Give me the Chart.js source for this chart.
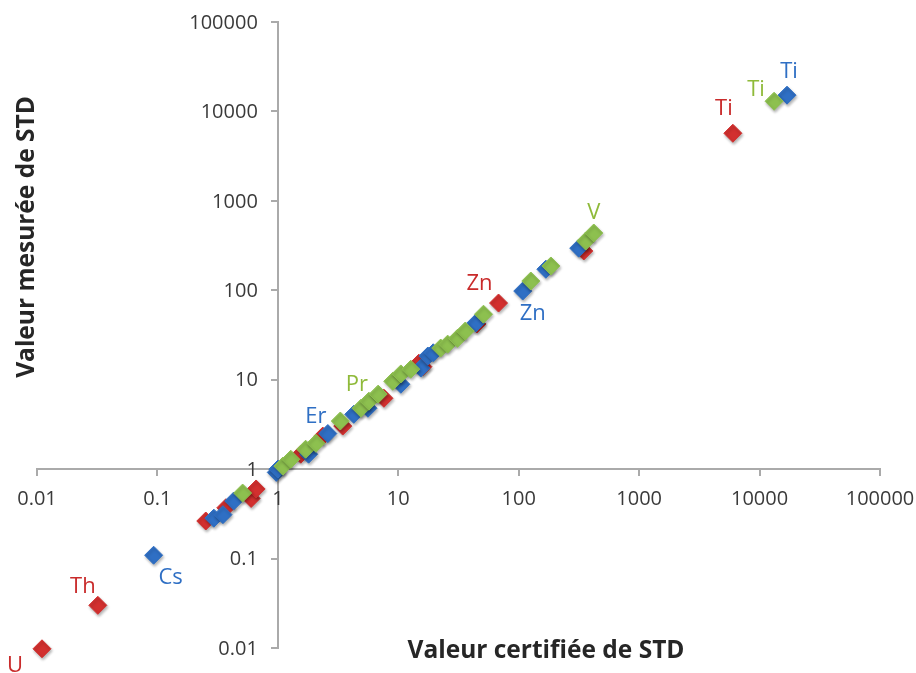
<!DOCTYPE html>
<html>
<head>
<meta charset="utf-8">
<script src="https://cdn.jsdelivr.net/npm/chart.js@4/dist/chart.umd.min.js"></script>
<style>
  html, body { margin: 0; padding: 0; background: #fff; }
  #wrap { width: 916px; height: 673px; }
</style>
</head>
<body>
<div id="wrap"><canvas id="chart_1"></canvas></div>
<script>
// log axis ticks
const tickValues = [0.01, 0.1, 1, 10, 100, 1000, 10000, 100000];
const tickLabels = ['0.01', '0.1', '1', '10', '100', '1000', '10000', '100000'];

// certified (x) / measured (y) values per series
const blueX = [0.093, 0.294, 0.35, 0.43, 0.97, 1.0, 1.8, 2.6, 4.27, 5.6, 10.5, 15.4, 17.6, 19.5, 44, 108, 168, 315, 16900];
const blueY = [0.109, 0.283, 0.31, 0.44, 0.92, 1.0, 1.47, 2.5, 4.1, 4.8, 8.9, 13.5, 18.4, 20, 43, 98, 172, 296, 15200];

const redX = [0.011, 0.032, 0.252, 0.37, 0.6, 0.66, 1.55, 2.36, 3.46, 7.6, 14.8, 16, 45, 68, 347, 6000];
const redY = [0.0098, 0.030, 0.263, 0.37, 0.47, 0.6, 1.47, 2.34, 3.03, 6.2, 15.3, 14, 42, 72, 275, 5700];

const greenX = [0.51, 1.1, 1.28, 1.7, 2.07, 3.3, 4.9, 5.7, 6.8, 9.0, 10.5, 12.7, 22.5, 25.7, 31, 36, 51, 126, 185, 360, 420, 13200];
const greenY = [0.54, 1.08, 1.29, 1.67, 1.95, 3.45, 4.8, 5.75, 6.9, 9.6, 11.6, 13.1, 22.6, 25, 29, 35, 54, 127, 187, 355, 437, 13000];

// element names: [series, point index, text]
const pointNames = [
    ['red', 0, 'U'], ['red', 1, 'Th'], ['blue', 0, 'Cs'],
    ['blue', 7, 'Er'], ['green', 7, 'Pr'], ['red', 13, 'Zn'],
    ['blue', 15, 'Zn'], ['green', 20, 'V'],
    ['red', 15, 'Ti'], ['green', 21, 'Ti'], ['blue', 18, 'Ti']
];

const colors = { blue: '#2f6fc4', red: '#d2302f', green: '#8dc04f' };
const textColors = { blue: '#2f6fc4', red: '#c92b2b', green: '#8fba3a' };
// label placement relative to the marker, px
const labelOffsets = {
    'red0': [-27, 17], 'red1': [-15, -19], 'blue0': [17, 23],
    'blue7': [-12, -17], 'green7': [-12, -16], 'red13': [-19, -19],
    'blue15': [10, 23], 'green20': [0, -20],
    'red15': [-9, -25], 'green21': [-18, -12], 'blue18': [2, -23]
};

const toPoints = (xs, ys) => xs.map((x, i) => ({ x: x, y: ys[i] }));

const series = {
    green: toPoints(greenX, greenY),
    blue: toPoints(blueX, blueY),
    red: toPoints(redX, redY)
};

const fontFamily = "'Open Sans', sans-serif";
const tickFontSize = 20;

const makeDataset = (key) => ({
    label: key,
    data: series[key],
    pointStyle: 'rectRot',
    pointRadius: 9,
    pointHoverRadius: 9,
    backgroundColor: colors[key],
    borderColor: colors[key],
    borderWidth: 1,
    showLine: false,
    clip: false
});

const extras = {
    id: 'extras',
    beforeDatasetsDraw(chart) {
        const ctx = chart.ctx;
        ctx.save();
        ctx.shadowColor = 'rgba(0,0,0,0.3)';
        ctx.shadowBlur = 3;
        ctx.shadowOffsetX = 1;
        ctx.shadowOffsetY = 2;
    },
    afterDatasetsDraw(chart) {
        const ctx = chart.ctx;
        ctx.restore();
        ctx.save();
        ctx.font = '22px ' + fontFamily;
        ctx.textAlign = 'center';
        ctx.textBaseline = 'middle';
        const keys = chart.data.datasets.map(d => d.label);
        pointNames.forEach(([key, idx, text]) => {
            const meta = chart.getDatasetMeta(keys.indexOf(key));
            const el = meta.data[idx];
            const off = labelOffsets[key + idx];
            ctx.fillStyle = textColors[key];
            ctx.fillText(text, el.x + off[0], el.y + off[1]);
        });
        ctx.restore();
    },
    afterDraw(chart) {
        const ctx = chart.ctx;
        const xs = chart.scales.x, ys = chart.scales.y;
        const axisX = xs.getPixelForValue(1);
        const axisY = ys.getPixelForValue(1);
        ctx.save();
        ctx.fillStyle = '#3a3a3a';
        ctx.font = tickFontSize + 'px ' + fontFamily;
        ctx.textBaseline = 'middle';
        // y tick labels, left of the vertical axis
        ctx.textAlign = 'right';
        tickValues.forEach((v, i) => {
            ctx.fillText(tickLabels[i], axisX - 20, ys.getPixelForValue(v) + 1);
        });
        // x tick labels, below the horizontal axis
        ctx.textAlign = 'center';
        tickValues.forEach((v, i) => {
            ctx.fillText(tickLabels[i], xs.getPixelForValue(v), axisY + 30);
        });
        // axis titles
        ctx.fillStyle = '#262626';
        ctx.font = 'bold 24.5px ' + fontFamily;
        ctx.fillText('Valeur certifiée de STD', 546, 651);
        ctx.translate(27, 237);
        ctx.rotate(-Math.PI / 2);
        ctx.fillText('Valeur mesurée de STD', 0, 0);
        ctx.restore();
    }
};

const axisOpts = (pos) => ({
    type: 'logarithmic',
    min: 0.01,
    max: 100000,
    position: pos,
    afterBuildTicks: (axis) => { axis.ticks = tickValues.map(v => ({ value: v })); },
    grid: { display: true, drawOnChartArea: false, drawTicks: true, tickLength: 6, color: '#aaaaaa', lineWidth: 2 },
    border: { display: true, color: '#aaaaaa', width: 2 },
    ticks: { display: false, autoSkip: false },
    title: { display: false }
});

const ctx_1 = document.getElementById('chart_1').getContext('2d');
const chart_1 = new Chart(ctx_1, {
    type: 'scatter',
    data: { datasets: [makeDataset('green'), makeDataset('blue'), makeDataset('red')] },
    options: {
        responsive: true,
        maintainAspectRatio: false,
        animation: false,
        layout: { padding: { left: 37, right: 36, top: 22, bottom: 25 } },
        plugins: { legend: { display: false }, tooltip: { enabled: false } },
        scales: {
            x: axisOpts({ y: 1 }),
            y: axisOpts({ x: 1 })
        }
    },
    plugins: [extras]
});
</script>
</body>
</html>
